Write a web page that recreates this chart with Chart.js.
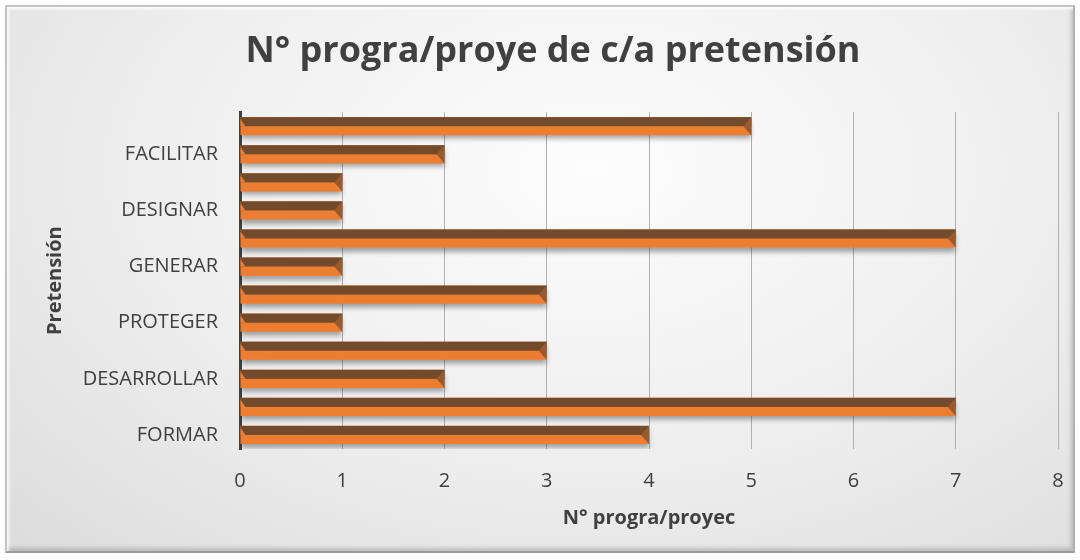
<!DOCTYPE html>
<html>
<head>
<meta charset="utf-8">
<script src="https://cdn.jsdelivr.net/npm/chart.js@4.4.1/dist/chart.umd.min.js"></script>
<style>
  html, body { margin: 0; padding: 0; background: #fff; }
  #frame {
    position: absolute; left: 5px; top: 5px; width: 1066px; height: 544px;
    border: 2px solid #c4c4c4;
    border-bottom-color: #9a9a9a; border-right-color: #b0b0b0;
    box-shadow: inset 2px 2px 3px rgba(255,255,255,0.9), inset -2px -3px 4px rgba(0,0,0,0.18);
    background: radial-gradient(ellipse at 55% 30%, #fdfdfd 0%, #eeeeee 55%, #dcdcdc 100%);
  }
  #wrap { position: absolute; left: 0; top: 0; width: 1080px; height: 560px; }
</style>
</head>
<body>
<div id="frame"></div>
<div id="wrap"><canvas id="myChart" width="1080" height="560"></canvas></div>
<script>
// bottom to top, as in the picture (every second label is not shown)
const categories = ['FORMAR', '', 'DESARROLLAR', '', 'PROTEGER', '', 'GENERAR', '', 'DESIGNAR', '', 'FACILITAR', ''];
const values = [4, 7, 2, 3, 1, 3, 1, 7, 1, 1, 2, 5];
const xTicks = [0, 1, 2, 3, 4, 5, 6, 7, 8];

const chartTitle = 'N° progra/proye de c/a pretensión';
const xTitle = 'N° progra/proyec';
const yTitle = 'Pretensión';

const orange = '#ED7D31';
const brown = '#724A2C';
const textColor = '#404040';
const fontName = "'Open Sans', 'Noto Sans', sans-serif";

// shadow under the bars, then brown upper half over each bar
const barLook = {
  id: 'barLook',
  beforeDatasetsDraw(chart) {
    const ctx = chart.ctx;
    ctx.save();
    ctx.shadowColor = 'rgba(0,0,0,0.35)';
    ctx.shadowBlur = 5;
    ctx.shadowOffsetX = 0;
    ctx.shadowOffsetY = 4;
  },
  afterDatasetsDraw(chart) {
    const ctx = chart.ctx;
    ctx.restore();
    const meta = chart.getDatasetMeta(0);
    meta.data.forEach(bar => {
      const top = bar.y - bar.height / 2;
      const half = bar.height / 2;
      ctx.save();
      ctx.fillStyle = brown;
      ctx.fillRect(bar.base, top, bar.x - bar.base, half);
      // small bevel at both ends
      ctx.fillStyle = orange;
      ctx.beginPath();
      ctx.moveTo(bar.base, top + 2);
      ctx.lineTo(bar.base + 5, top + half);
      ctx.lineTo(bar.base, top + half);
      ctx.fill();
      ctx.fillStyle = '#9a5a2c';
      ctx.beginPath();
      ctx.moveTo(bar.x, top);
      ctx.lineTo(bar.x, bar.y + half);
      ctx.lineTo(bar.x - 8, top + half);
      ctx.closePath();
      ctx.fill();
      ctx.restore();
    });
  }
};

new Chart('myChart', {
  type: 'bar',
  data: {
    labels: categories,
    datasets: [{
      data: values,
      backgroundColor: orange,
      borderWidth: 0,
      barPercentage: 0.9,
      categoryPercentage: 0.72
    }]
  },
  options: {
    indexAxis: 'y',
    responsive: false,
    animation: false,
    layout: { padding: { left: 48, right: 22, top: 0, bottom: 0 } },
    plugins: {
      legend: { display: false },
      tooltip: { enabled: false },
      title: {
        display: true,
        text: chartTitle,
        color: textColor,
        font: { family: fontName, size: 36, weight: 'bold', lineHeight: 1.2 },
        padding: { top: 30, bottom: 39 }
      }
    },
    scales: {
      x: {
        min: 0,
        max: 8,
        afterBuildTicks(axis) {
          axis.ticks = xTicks.map(v => ({ value: v }));
        },
        afterFit(axis) {
          axis.height = 111;
          axis.paddingLeft = 0;
          axis.paddingRight = 0;
        },
        grid: { color: '#b0b0b0', lineWidth: 1, drawTicks: false },
        border: { display: false },
        ticks: { color: textColor, padding: 20, font: { family: fontName, size: 20 } },
        title: {
          display: true,
          text: xTitle,
          color: textColor,
          font: { family: fontName, size: 20, weight: 'bold', lineHeight: 1.2 },
          padding: { top: 30, bottom: 30 }
        }
      },
      y: {
        reverse: true,
        afterFit(axis) { axis.width = 192; },
        grid: { display: false, drawTicks: false },
        border: { display: true, color: textColor, width: 3 },
        ticks: { autoSkip: false, color: textColor, padding: 22, font: { family: fontName, size: 20 } },
        title: {
          display: true,
          text: yTitle,
          color: textColor,
          font: { family: fontName, size: 20, weight: 'bold', lineHeight: 1.2 },
          padding: { top: -5, bottom: -5 }
        }
      }
    }
  },
  plugins: [barLook]
});
</script>
</body>
</html>
